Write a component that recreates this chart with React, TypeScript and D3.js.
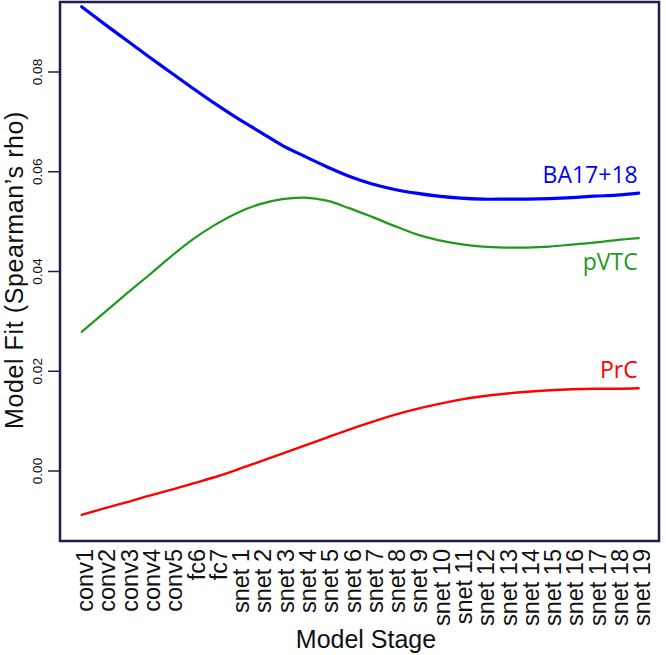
import React, { useEffect, useRef } from "react";
import * as d3 from "d3";

// Model stages along the x axis
const stages = [
  "conv1", "conv2", "conv3", "conv4", "conv5", "fc6", "fc7",
  "snet 1", "snet 2", "snet 3", "snet 4", "snet 5", "snet 6", "snet 7",
  "snet 8", "snet 9", "snet 10", "snet 11", "snet 12", "snet 13",
  "snet 14", "snet 15", "snet 16", "snet 17", "snet 18", "snet 19",
];

// Model fit (Spearman's rho) per region
const ba1718 = [
  0.0931, 0.0897, 0.0864, 0.0831, 0.0799, 0.0767, 0.0736, 0.0707, 0.068,
  0.0653, 0.0631, 0.061, 0.0591, 0.0576, 0.0565, 0.0557, 0.0551, 0.0547,
  0.0545, 0.0545, 0.0545, 0.0546, 0.0548, 0.0551, 0.0553, 0.0557,
];
const pvtc = [
  0.0279, 0.0317, 0.0355, 0.0392, 0.043, 0.0465, 0.0494, 0.0518, 0.0535,
  0.0545, 0.0548, 0.0542, 0.0527, 0.051, 0.0492, 0.0475, 0.0463, 0.0455,
  0.045, 0.0448, 0.0448, 0.045, 0.0454, 0.0458, 0.0463, 0.0467,
];
const prc = [
  -0.0088, -0.0075, -0.0063, -0.005, -0.0038, -0.0025, -0.0012, 0.0003,
  0.0019, 0.0035, 0.0051, 0.0067, 0.0083, 0.0098, 0.0112, 0.0124, 0.0134,
  0.0143, 0.015, 0.0155, 0.0159, 0.0162, 0.0164, 0.0165, 0.0165, 0.0166,
];

const yTicks = [0.0, 0.02, 0.04, 0.06, 0.08];

const series = [
  { name: "BA17+18", values: ba1718, color: "#0000ff", width: 3.2, labelDy: -10 },
  { name: "pVTC", values: pvtc, color: "#1f991f", width: 2.2, labelDy: 32 },
  { name: "PrC", values: prc, color: "#ff0000", width: 2.4, labelDy: -10 },
];

function drawChart(svgEl: SVGSVGElement) {
  const width = 666;
  const height = 655;
  const box = { left: 60, top: 2, right: 659, bottom: 541 };
  const axisColor = "#1e1e4c";
  const sans = "'Liberation Sans', Arial, sans-serif";
  const labelFont = "'Open Sans', 'Noto Sans', sans-serif";

  const svg = d3.select(svgEl);
  svg.selectAll("*").remove();
  svg.attr("width", width).attr("height", height).attr("viewBox", `0 0 ${width} ${height}`);

  // Scales
  const x = d3.scalePoint<string>().domain(stages).range([81.7, 638.7]);
  const y = d3.scaleLinear().domain([0, 0.08]).range([471, 72]);

  // Lines
  const line = d3
    .line<number>()
    .x((_, i) => x(stages[i]) as number)
    .y((d) => y(d))
    .curve(d3.curveCatmullRom.alpha(0.5));

  series.forEach((s) => {
    svg
      .append("path")
      .datum(s.values)
      .attr("fill", "none")
      .attr("stroke", s.color)
      .attr("stroke-width", s.width)
      .attr("stroke-linecap", "round")
      .attr("d", line);

    // Region label at the right end of each line
    const last = s.values[s.values.length - 1];
    svg
      .append("text")
      .attr("x", (x(stages[stages.length - 1]) as number) - 1)
      .attr("y", y(last) + s.labelDy)
      .attr("text-anchor", "end")
      .style("font-family", labelFont)
      .style("font-size", "23px")
      .style("fill", s.color)
      .text(s.name);
  });

  // Plot box
  svg
    .append("rect")
    .attr("x", box.left)
    .attr("y", box.top)
    .attr("width", box.right - box.left)
    .attr("height", box.bottom - box.top)
    .attr("fill", "none")
    .attr("stroke", axisColor)
    .attr("stroke-width", 2.5);

  // Y ticks and rotated labels
  const yAxis = svg.append("g");
  yTicks.forEach((t) => {
    yAxis
      .append("line")
      .attr("x1", box.left - 12)
      .attr("x2", box.left)
      .attr("y1", y(t))
      .attr("y2", y(t))
      .attr("stroke", axisColor)
      .attr("stroke-width", 1.5);
    yAxis
      .append("text")
      .attr("transform", `translate(41.7,${y(t)}) rotate(-90)`)
      .attr("text-anchor", "middle")
      .style("font-family", sans)
      .style("font-size", "13.5px")
      .style("fill", "#111")
      .text(d3.format(".2f")(t));
  });

  // X tick labels, vertical
  svg
    .append("g")
    .selectAll("text")
    .data(stages)
    .enter()
    .append("text")
    .attr("transform", (d) => `translate(${(x(d) as number) + 11.5},549) rotate(-90)`)
    .attr("text-anchor", "end")
    .style("font-family", sans)
    .style("font-size", "23.5px")
    .style("fill", "#111")
    .text((d) => d);

  // Axis titles
  svg
    .append("text")
    .attr("x", 366)
    .attr("y", 648)
    .attr("text-anchor", "middle")
    .style("font-family", sans)
    .style("font-size", "25px")
    .style("fill", "#111")
    .text("Model Stage");

  svg
    .append("text")
    .attr("transform", `translate(23,270) rotate(-90)`)
    .attr("text-anchor", "middle")
    .style("font-family", sans)
    .style("font-size", "25px")
    .style("letter-spacing", "0.6px")
    .style("fill", "#111")
    .text("Model Fit (Spearman\u2019s rho)");
}

const App = () => {
  const svgRef = useRef<SVGSVGElement>(null);

  useEffect(() => {
    if (svgRef.current) drawChart(svgRef.current);
  }, []);

  return (
    <div style={{ position: "absolute", left: 0, top: 0, width: 666, height: 655, background: "#fff" }}>
      <svg ref={svgRef} style={{ display: "block" }} />
    </div>
  );
};

export default App;
